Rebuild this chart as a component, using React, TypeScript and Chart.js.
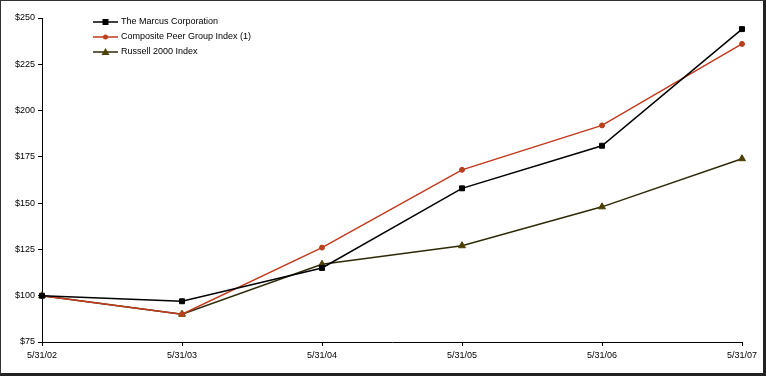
import React, { useEffect, useRef } from "react";
import { Chart, registerables } from "chart.js";

Chart.register(...registerables);

const categories = ["5/31/02", "5/31/03", "5/31/04", "5/31/05", "5/31/06", "5/31/07"];
const marcus = [100, 97, 115, 158, 181, 244];
const peer = [100, 90, 126, 168, 192, 236];
const russell = [100, 90, 117, 127, 148, 174];
const seriesNames = ["The Marcus Corporation", "Composite Peer Group Index (1)", "Russell 2000 Index"];
const yTicks = [75, 100, 125, 150, 175, 200, 225, 250];

const FONT = "'Liberation Sans', Arial, sans-serif";

const legendPlugin = {
  id: "customLegend",
  afterDraw(chart: any) {
    const ctx = chart.ctx;
    ctx.save();
    const x0 = 92;
    const x1 = 117;
    const rows = [21, 36, 51];
    chart.data.datasets.forEach((ds: any, i: number) => {
      const y = rows[i];
      ctx.strokeStyle = ds.borderColor;
      ctx.lineWidth = 1.5;
      ctx.beginPath();
      ctx.moveTo(x0, y);
      ctx.lineTo(x1, y);
      ctx.stroke();
      const cx = (x0 + x1) / 2;
      ctx.fillStyle = ds.pointBackgroundColor;
      ctx.beginPath();
      if (ds.pointStyle === "rect") {
        ctx.rect(cx - 3, y - 3, 6, 6);
      } else if (ds.pointStyle === "circle") {
        ctx.arc(cx, y, 2.5, 0, Math.PI * 2);
      } else {
        ctx.moveTo(cx, y - 4);
        ctx.lineTo(cx + 4, y + 3);
        ctx.lineTo(cx - 4, y + 3);
        ctx.closePath();
      }
      ctx.fill();
      ctx.fillStyle = "#000";
      ctx.font = `9px ${FONT}`;
      ctx.textBaseline = "middle";
      ctx.textAlign = "left";
      ctx.fillText(ds.label, x1 + 3, y);
    });
    ctx.restore();
  },
};

export default function App() {
  const ref = useRef<HTMLCanvasElement>(null);
  useEffect(() => {
    document.body.style.margin = "0";
    const chart = new Chart(ref.current!, {
      type: "line",
      data: {
        labels: categories,
        datasets: [
          {
            label: seriesNames[0],
            data: marcus,
            borderColor: "#000000",
            backgroundColor: "#000000",
            pointBackgroundColor: "#000000",
            pointBorderColor: "#000000",
            pointStyle: "rect",
            pointRadius: 3.5,
            pointBorderWidth: 1,
            borderWidth: 1.5,
            tension: 0,
          },
          {
            label: seriesNames[1],
            data: peer,
            borderColor: "#c23a1e",
            backgroundColor: "#b8401c",
            pointBackgroundColor: "#b8401c",
            pointBorderColor: "#b8401c",
            pointStyle: "circle",
            pointRadius: 2.5,
            pointBorderWidth: 1,
            borderWidth: 1.5,
            tension: 0,
          },
          {
            label: seriesNames[2],
            data: russell,
            borderColor: "#2e2a08",
            backgroundColor: "#4d4000",
            pointBackgroundColor: "#4d4000",
            pointBorderColor: "#4d4000",
            pointStyle: "triangle",
            pointRadius: 4,
            pointBorderWidth: 1,
            borderWidth: 1.5,
            tension: 0,
          },
        ],
      },
      options: {
        animation: false,
        responsive: false,
        maintainAspectRatio: false,
        layout: { padding: { top: 17, right: 21, bottom: 0, left: 0 } },
        plugins: { legend: { display: false }, tooltip: { enabled: false } },
        scales: {
          x: {
            type: "category",
            offset: false,
            afterFit: (s: any) => {
              s.height = 31;
            },
            border: { display: true, color: "#000", width: 1 },
            grid: { drawOnChartArea: false, color: "#000", tickLength: 4 },
            ticks: {
              color: "#000",
              font: { family: FONT, size: 9 },
              padding: 4,
              maxRotation: 0,
              autoSkip: false,
            },
          },
          y: {
            min: 75,
            max: 250,
            afterFit: (s: any) => {
              s.width = 41;
            },
            afterBuildTicks: (s: any) => {
              s.ticks = yTicks.map((v) => ({ value: v }));
            },
            border: { display: true, color: "#000", width: 1 },
            grid: { drawOnChartArea: false, color: "#000", tickLength: 4 },
            ticks: {
              color: "#000",
              font: { family: FONT, size: 9 },
              padding: 3,
              callback: (v: any) => "$" + v,
            },
          },
        },
      },
      plugins: [legendPlugin],
    });
    return () => chart.destroy();
  }, []);
  return (
    <div
      style={{
        width: 766,
        height: 376,
        boxSizing: "border-box",
        borderTop: "1px solid #333",
        borderLeft: "1px solid #333",
        borderRight: "3px solid #222",
        borderBottom: "3px solid #222",
        background: "#fff",
        overflow: "hidden",
      }}
    >
      <canvas ref={ref} width={762} height={372} style={{ display: "block" }} />
    </div>
  );
}
